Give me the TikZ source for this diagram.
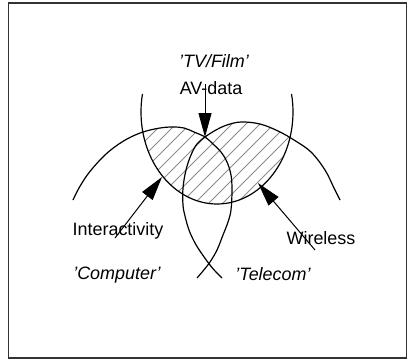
\documentclass[tikz,border=0pt]{standalone}
\usepackage{fontspec}
\setmainfont{Liberation Sans}
\usetikzlibrary{arrows.meta}
\tikzset{
  frame/.style={draw=black!80, line width=1.6bp},
  curve/.style={draw=black, line width=1.2bp, line join=round},
  ring/.style={draw=black, line width=1.2bp},
  hatch/.style={draw=black!45, line width=0.9bp},
  pointer/.style={draw=black, line width=1bp, -{Triangle[length=24bp,width=13bp]}},
  lbl/.style={font=\fontsize{18}{20}\selectfont, anchor=base, inner sep=0pt},
  ilbl/.style={lbl, font=\fontsize{18}{20}\selectfont\itshape}
}
\begin{document}
\begin{tikzpicture}[x=1bp, y=-1bp]
\useasboundingbox (0,0) rectangle (409,362);
\draw[frame] (8.5,3) rectangle (406.5,358);

% hatching: inside the ring and below the two arcs
\begin{scope}
  \clip plot[domain=0:360, samples=90] ({217+76*cos(\x)},{112+92*sin(\x)});
  \clip plot[smooth] coordinates {(60,210) (73,200) (79,188) (88,174) (100,160) (112,149) (127,139) (143,132) (160,128) (173,127) (184,128) (194,132) (205,137)}
    -- plot[smooth] coordinates {(205,137) (216,130) (227,125) (241,122) (260,124) (278,131) (294,140) (311,152) (325,170) (334,188) (340,200) (350,210)}
    -- (350,320) -- (60,320) -- cycle;
  \foreach \c in {258,272,...,510}
    \draw[hatch] ({\c-100},100) -- ({\c-220},220);
\end{scope}

% TV/Film ring
\draw[ring] plot[domain=-11.3:191.3, samples=80] ({217+76*cos(\x)},{112+92*sin(\x)});

% Computer curve
\draw[curve] plot[smooth, tension=0.6] coordinates {(73,200) (79,188) (88,174) (100,160) (112,149) (127,139) (143,132) (160,128) (173,127) (184,128) (194,132) (205,137) (213,144) (221,152) (227,162) (231,175) (232,190) (231,210) (228,222) (223,235) (217,250) (210,262) (203,271) (197,278)};

% Telecom curve
\draw[curve] plot[smooth, tension=0.6] coordinates {(340,200) (334,188) (325,170) (311,152) (294,140) (278,131) (260,124) (241,122) (227,125) (216,130) (205,137) (197,144) (191,155) (186,170) (183,188) (183,205) (185,216) (189,230) (195,243) (202,254) (210,265) (216,272) (222,278)};

% labels
\node[ilbl] (tv) at (214,67.5) {\char"0027 TV/Film’};
\node[lbl] (av) at (211,94) {AV-data};
\node[lbl] (inter) at (118,235.5) {Interactivity};
\node[ilbl] (comp) at (117,279) {\char"0027 Computer’};
\node[lbl] (wire) at (321,244.5) {Wireless};
\node[ilbl] (tele) at (273,280) {\char"0027 Telecom’};

% pointer ends
\coordinate (avtail) at (205,84);
\coordinate (avtip) at (205,137);
\coordinate (intail) at (115,238);
\coordinate (intip) at (162,177);
\coordinate (wtail) at (315,250);
\coordinate (wtip) at (258,183);

\draw[pointer] (avtail) -- (avtip);
\draw[pointer] (intail) -- (intip);
\draw[pointer] (wtail) -- (wtip);
\end{tikzpicture}
\end{document}
